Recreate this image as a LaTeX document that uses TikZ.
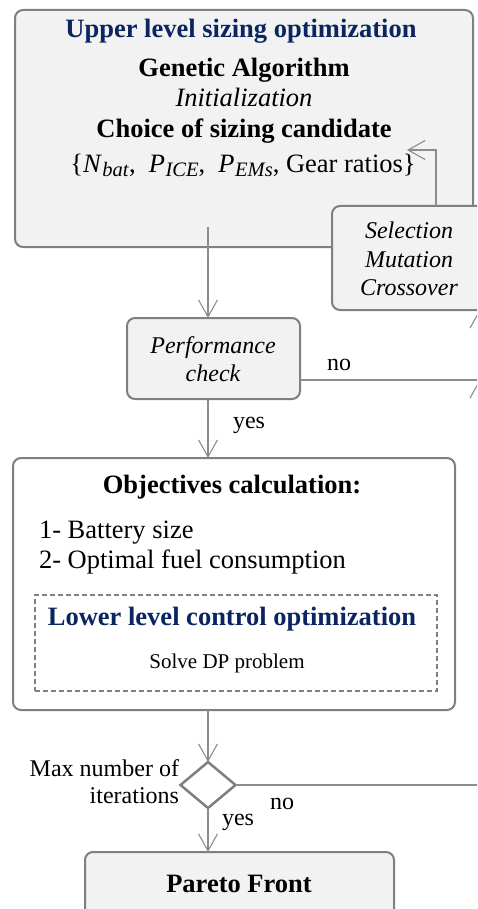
\documentclass[tikz,border=0pt]{standalone}
\usepackage{fontspec}
\setmainfont{Liberation Serif}
\usepackage{xcolor}
\usepackage{tikz}
\usetikzlibrary{arrows.meta, positioning, shapes.geometric}
\definecolor{boxgray}{HTML}{F2F2F2}
\definecolor{linegray}{HTML}{7F7F7F}
\definecolor{navy}{HTML}{0B2560}
\newcommand{\sizevar}[2]{\textit{#1}\kern0.5pt\raisebox{-0.28ex}{\fontsize{20.5}{22}\selectfont\textit{#2}}}

\begin{document}
\begin{tikzpicture}[x=1pt, y=-1pt,
    every node/.style={inner sep=0pt, outer sep=0pt},
    panel/.style={draw=linegray, line width=2pt, rounded corners=8pt, fill=white},
    graypanel/.style={panel, fill=boxgray},
    big/.style={font=\fontsize{26.5}{30}\selectfont, anchor=base},
    mid/.style={font=\fontsize{24}{28}\selectfont, anchor=base},
    small/.style={font=\fontsize{21}{24}\selectfont, anchor=base},
    arr/.style={draw=linegray!90, line width=1.1pt, -{Straight Barb[length=17pt, width=19pt]}},
]
\useasboundingbox (0,0) rectangle (477,909);
\clip (0,0) rectangle (477,909);

% boxes
\node (top) at (244,128.5) [graypanel, minimum width=458, minimum height=237] {};
\node (sel) at (409,258) [graypanel, minimum width=154, minimum height=104] {};
\node (perf) at (213.5,358.5) [graypanel, minimum width=173, minimum height=81] {};
\node (obj) at (234,584) [panel, minimum width=442, minimum height=252] {};
\node (lower) at (236,643) [draw=linegray, line width=1.6pt, dash pattern=on 5pt off 3pt,
    minimum width=402, minimum height=96] {};
\node (maxit) at (208,785) [diamond, draw=linegray, line width=2.5pt, fill=white,
    minimum width=55, minimum height=46] {};
\node (pareto) at (239.5,902) [graypanel, minimum width=309, minimum height=100] {};

% texts
\node (upper) at (241,38) [big, font=\fontsize{26.5}{30}\selectfont\bfseries, text=navy] {Upper level sizing optimization};
\node (ga) at (244,77) [big, font=\fontsize{26.5}{30}\selectfont\bfseries] {Genetic Algorithm};
\node (init) at (244,107) [big, font=\fontsize{26.5}{30}\selectfont\itshape] {Initialization};
\node (choice) at (244,138) [big, font=\fontsize{26.5}{30}\selectfont\bfseries] {Choice of sizing candidate};
\node (cand) at (243,173) [big] {\{\sizevar{N}{bat},\ \ \sizevar{P}{ICE},\ \ \sizevar{P}{EMs}, Gear ratios\}};

\node (sel1) at (409,238) [mid, font=\fontsize{24}{28}\selectfont\itshape] {Selection};
\node (sel2) at (409,267) [mid, font=\fontsize{24}{28}\selectfont\itshape] {Mutation};
\node (sel3) at (409,295) [mid, font=\fontsize{24}{28}\selectfont\itshape] {Crossover};

\node (perf1) at (213,353) [mid, font=\fontsize{24}{28}\selectfont\itshape] {Performance};
\node (perf2) at (213,381) [mid, font=\fontsize{24}{28}\selectfont\itshape] {check};
\node (perfno) at (327,370) [mid, anchor=base west] {no};
\node (perfyes) at (233,428) [mid, anchor=base west] {yes};

\node (objt) at (232,493) [big, font=\fontsize{26.5}{30}\selectfont\bfseries] {Objectives calculation:};
\node (obj1) at (39,538) [big, anchor=base west] {1- Battery size};
\node (obj2) at (39,568) [big, anchor=base west] {2- Optimal fuel consumption};
\node (lowert) at (232,625) [big, font=\fontsize{26.5}{30}\selectfont\bfseries, text=navy] {Lower level control optimization};
\node (dp) at (227,668) [small] {Solve DP problem};

\node (max1) at (179,776) [mid, anchor=base east] {Max number of};
\node (max2) at (179,803) [mid, anchor=base east] {iterations};
\node (maxno) at (270,809) [mid, anchor=base west] {no};
\node (maxyes) at (222,825) [mid, anchor=base west] {yes};

\node (paretot) at (239,892) [big, font=\fontsize{26.5}{30}\selectfont\bfseries] {Pareto Front};

% connectors
\coordinate (gaout) at (208,227);
\coordinate (selin) at (407,150);
\coordinate (junc) at (479.5,380);

\draw[arr] ([xshift=27pt]sel.north) |- (selin);
\draw[arr] (gaout) -- (gaout |- perf.north);
\draw[arr] (gaout |- perf.south) -- (gaout |- obj.north);
\draw[arr] (gaout |- obj.south) -- (maxit.north);
\draw[arr] (maxit.south) -- (maxit.south |- pareto.north);
\draw[arr] (perf.east |- junc) -- (junc) -- (junc |- sel.south);
\draw[arr] (maxit.east) -- (maxit.east -| junc) -- (junc);

\end{tikzpicture}
\end{document}
